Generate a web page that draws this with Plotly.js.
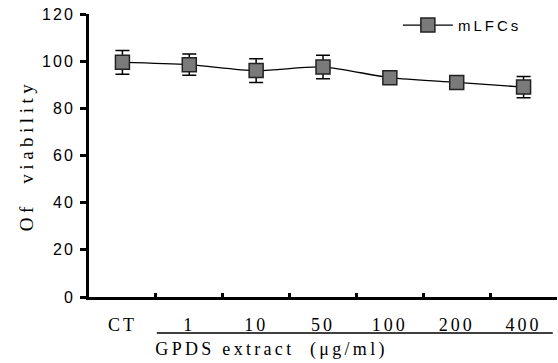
<!DOCTYPE html>
<html><head><meta charset="utf-8">
<script src="https://cdn.plot.ly/plotly-3.0.1.min.js"></script>
<style>
html,body{margin:0;padding:0;background:#fff}
#c{width:558px;height:363px}
#c .xtick text{letter-spacing:3px !important}
#c .ytick text{letter-spacing:2px !important}
#c .ytitle{letter-spacing:4.5px !important}
#c .legendtext{letter-spacing:3px !important}
#c .annotation-text-g text{letter-spacing:3.3px !important}
</style>
</head><body><div id="c"></div>
<script>
const categories = ["CT", "1", "10", "50", "100", "200", "400"];
const viability = [99.5, 98.5, 96, 97.5, 93, 91, 89];
const errors = [5, 4.5, 5, 5, 2, 2, 4.5];
const seriesName = "mLFCs";
const yTicks = [0, 20, 40, 60, 80, 100, 120];

const serif = "Liberation Serif, Times New Roman, serif";
const sans = "Liberation Sans, Arial, sans-serif";

const trace = {
  x: categories, y: viability, name: seriesName, type: "scatter", mode: "lines+markers",
  line: {color: "#000", width: 1.3, shape: "spline", smoothing: 0.8},
  marker: {symbol: "square", size: 14, color: "#7a7a7a", line: {color: "#222", width: 1.5}},
  error_y: {type: "data", array: errors, visible: true, color: "#000", thickness: 1.5, width: 7}
};

const layout = {
  width: 558, height: 363,
  margin: {l: 89, r: 1, t: 14, b: 66},
  paper_bgcolor: "#fff", plot_bgcolor: "#fff",
  showlegend: true,
  legend: {x: 0.66, y: 0.96, xanchor: "left", yanchor: "middle", bgcolor: "rgba(0,0,0,0)",
           itemwidth: 50, font: {family: sans, size: 15, color: "#000"}},
  xaxis: {type: "category", range: [-0.5, 6.5], showline: true, linecolor: "#000", linewidth: 3,
          ticks: "inside", tickson: "boundaries", ticklen: 4, tickwidth: 3, tickcolor: "#000",
          showgrid: false, zeroline: false, ticklabelstandoff: 9,
          tickfont: {family: serif, size: 18, color: "#000"}},
  yaxis: {range: [0, 120], tickvals: yTicks, ticktext: yTicks.map(String), showline: true,
          linecolor: "#000", linewidth: 3, ticks: "outside", ticklen: 6, tickwidth: 3, tickcolor: "#000",
          showgrid: false, zeroline: false, ticklabelstandoff: 2,
          tickfont: {family: sans, size: 16, color: "#000"},
          title: {text: "Of  viability", font: {family: serif, size: 19, color: "#000"}, standoff: 10}},
  shapes: [{type: "line", xref: "paper", yref: "paper", x0: 0.145, x1: 0.991, y0: -0.127, y1: -0.127,
            line: {color: "#000", width: 1.5}}],
  annotations: [{xref: "paper", yref: "paper", x: 0.389, y: -0.187, xanchor: "center", yanchor: "middle",
                 showarrow: false, text: "GPDS extract  (μg/ml)",
                 font: {family: serif, size: 18, color: "#000"}}]
};

Plotly.newPlot("c", [trace], layout, {displayModeBar: false, staticPlot: true}).then(function (gd) {
  gd.querySelectorAll(".legend [clip-path]").forEach(function (el) { el.removeAttribute("clip-path"); });
});
</script></body></html>
